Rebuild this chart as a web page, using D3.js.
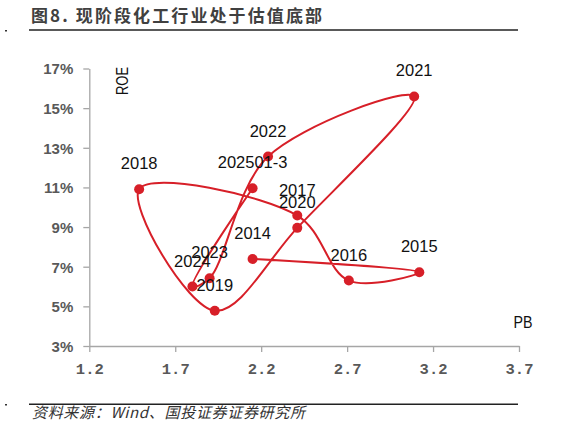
<!DOCTYPE html>
<html><head><meta charset="utf-8">
<script src="https://cdn.jsdelivr.net/npm/d3@7"></script>
<style>
html,body{margin:0;padding:0;background:#fff;}
svg{display:block;}
</style>
</head><body>
<svg id="chart" width="567" height="426"></svg>
<script>
const years = ["2014","2015","2016","2017","2018","2019","2020","2021","2022","2023","2024","202501-3"];
const pbValues = [2.15, 3.12, 2.71, 2.41, 1.49, 1.93, 2.41, 3.09, 2.24, 1.90, 1.80, 2.15];
const roeValues = [7.39, 6.72, 6.30, 9.58, 10.91, 4.78, 8.96, 15.59, 12.56, 6.42, 6.00, 10.96];
const xTicks = [1.2, 1.7, 2.2, 2.7, 3.2, 3.7];
const yTicks = [3, 5, 7, 9, 11, 13, 15, 17];
const titleText = "图8. 现阶段化工行业处于估值底部";
const sourceText = "资料来源：Wind、国投证券证券研究所";

const svg = d3.select("#chart");
const red = "#d71f28";
const x = d3.scaleLinear().domain([1.2, 3.7]).range([89.3, 519]);
const y = d3.scaleLinear().domain([3, 17]).range([346, 68.5]);

// title
svg.append("text").attr("x", 31).attr("y", 22)
  .attr("font-family", "'Noto Sans CJK SC', sans-serif").attr("font-size", 17)
  .attr("textLength", 291).attr("lengthAdjust", "spacing")
  .attr("font-weight", 700).attr("fill", "#404040").text(titleText);
svg.append("line").attr("x1", 29).attr("x2", 518).attr("y1", 30).attr("y2", 30)
  .attr("stroke", "#222").attr("stroke-width", 1.5);
svg.append("rect").attr("x", 5).attr("y", 30).attr("width", 2).attr("height", 1.5).attr("fill", "#333");

// footer
svg.append("line").attr("x1", 29).attr("x2", 518).attr("y1", 404.3).attr("y2", 404.3)
  .attr("stroke", "#222").attr("stroke-width", 1.5);
svg.append("rect").attr("x", 5).attr("y", 404).attr("width", 2).attr("height", 1.5).attr("fill", "#333");
svg.append("text").attr("x", 32).attr("y", 418)
  .attr("font-family", "'Noto Sans CJK SC', sans-serif").attr("font-size", 15)
  .attr("font-style", "italic").attr("fill", "#333")
  .attr("textLength", 273).attr("lengthAdjust", "spacing")
  .text(sourceText);

// axes
const gx = svg.append("g").attr("transform", `translate(0,${y(3)})`)
  .call(d3.axisBottom(x).tickValues(xTicks).tickSize(6).tickSizeOuter(0).tickFormat(d3.format(".1f")));
gx.select(".domain").attr("stroke", "#a6a6a6").attr("stroke-width", 1.3);
gx.selectAll(".tick line").attr("stroke", "#a6a6a6").attr("stroke-width", 1.3);
gx.selectAll(".tick text").attr("font-family", "'Liberation Mono', monospace")
  .attr("font-size", 15.5).attr("font-weight", 700).attr("fill", "#595959").attr("dy", 0).attr("y", 28);

const gy = svg.append("g").attr("transform", `translate(${x(1.2)},0)`)
  .call(d3.axisLeft(y).tickValues(yTicks).tickSize(6).tickSizeOuter(0).tickFormat(d => d + "%"));
gy.select(".domain").attr("stroke", "#a6a6a6").attr("stroke-width", 1.3);
gy.selectAll(".tick line").attr("stroke", "#a6a6a6").attr("stroke-width", 1.3);
gy.selectAll(".tick text").attr("font-family", "'Liberation Sans', Arial, sans-serif")
  .attr("font-size", 15).attr("font-weight", 700).attr("fill", "#595959").attr("x", -16).attr("dy", "0.36em");

// axis titles
svg.append("text").attr("transform", "translate(128,95) rotate(-90)")
  .attr("font-family", "'Liberation Sans', Arial, sans-serif").attr("font-size", 17)
  .attr("textLength", 28).attr("lengthAdjust", "spacingAndGlyphs").attr("fill", "#111").text("ROE");
svg.append("text").attr("x", 513.5).attr("y", 327.5)
  .attr("font-family", "'Liberation Sans', Arial, sans-serif").attr("font-size", 17)
  .attr("textLength", 19).attr("lengthAdjust", "spacingAndGlyphs").attr("fill", "#111").text("PB");

// data
const pts = years.map((yr, i) => ({year: yr, pb: pbValues[i], roe: roeValues[i]}));
const line = d3.line().x(d => x(d.pb)).y(d => y(d.roe)).curve(d3.curveCatmullRom.alpha(0.5));
svg.append("path").datum(pts).attr("d", line).attr("fill", "none")
  .attr("stroke", red).attr("stroke-width", 2);
svg.selectAll("circle.pt").data(pts).enter().append("circle").attr("class", "pt")
  .attr("cx", d => x(d.pb)).attr("cy", d => y(d.roe)).attr("r", 5).attr("fill", red);
svg.selectAll("text.lbl").data(pts).enter().append("text").attr("class", "lbl")
  .attr("x", d => x(d.pb)).attr("y", d => y(d.roe) - 20).attr("text-anchor", "middle")
  .attr("font-family", "'Liberation Sans', Arial, sans-serif").attr("font-size", 16.5)
  .attr("fill", "#111").text(d => d.year);
</script>
</body></html>
